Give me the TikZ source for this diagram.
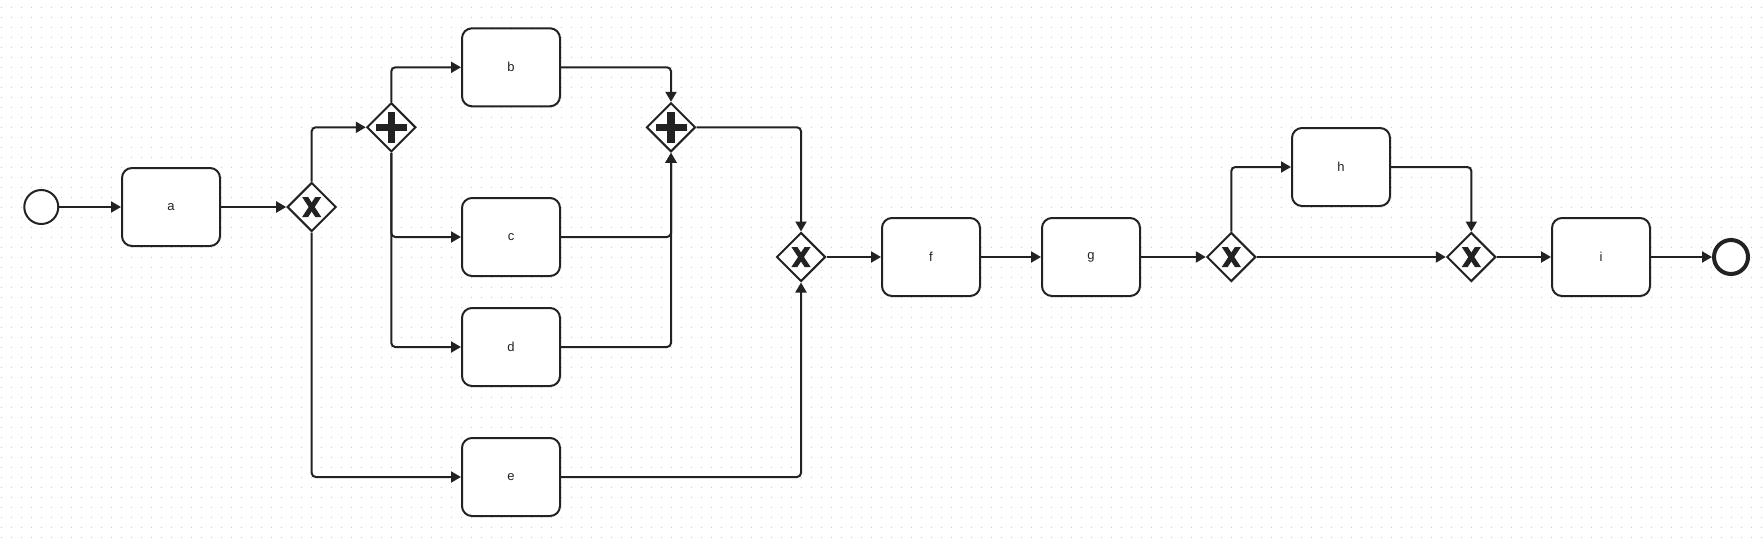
\documentclass[tikz,border=0pt]{standalone}
\usepackage{fontspec}
\setmainfont{Liberation Sans}
\usetikzlibrary{shapes.geometric,arrows.meta}
\definecolor{ink}{RGB}{34,34,34}
\definecolor{dotc}{RGB}{200,200,200}
\begin{document}
\begin{tikzpicture}[x=1pt,y=-1pt,
  task/.style={draw=ink,line width=2pt,fill=white,rounded corners=10pt,minimum width=98pt,minimum height=78pt,inner sep=0pt,font=\fontsize{13}{15}\selectfont,text=ink},
  gw/.style={diamond,draw=ink,line width=2pt,fill=white,minimum width=49pt,minimum height=49pt,inner sep=0pt,aspect=1},
  startev/.style={circle,draw=ink,line width=2pt,fill=white,minimum size=34pt,inner sep=0pt},
  endev/.style={circle,draw=ink,line width=4pt,fill=white,minimum size=34pt,inner sep=0pt},
  flow/.style={draw=ink,line width=2pt,rounded corners=4pt,-{Triangle[length=10pt,width=11pt]}},
  markfill/.style={fill=ink},
  gridrow/.style={draw=dotc,line width=1.2pt,dash pattern=on 1.2pt off 8.8pt}
]
\useasboundingbox[fill=white] (0,0) rectangle (1764,538);
% dotted grid background
\foreach \j in {0,...,53} {\draw[gridrow] (1.1,7.3+10*\j) -- (1764,7.3+10*\j);}

% nodes
\node[startev] (s) at (41.3,207) {};
\node[task] (a) at (171,207) {a};
\node[gw] (x1) at (311.7,207) {};
\node[gw] (p1) at (391.3,127.3) {};
\node[task] (b) at (511,67.3) {b};
\node[task] (c) at (511,237) {c};
\node[task] (d) at (511,347) {d};
\node[task] (e) at (511,477) {e};
\node[gw] (p2) at (671,127.3) {};
\node[gw] (x2) at (801,257) {};
\node[task] (f) at (931,257) {f};
\node[task] (g) at (1091,257) {g};
\node[gw] (x3) at (1231.3,257) {};
\node[task] (h) at (1341,167) {h};
\node[gw] (x4) at (1471.3,257) {};
\node[task] (i) at (1601,257) {i};
\node[endev] (end) at (1731,257) {};

% gateway markers
\foreach \n in {x1,x2,x3,x4} {
  \fill[markfill] ([shift={(-9.6,10)}]\n.center) -- ([shift={(-3.6,10)}]\n.center) -- ([shift={(9.6,-10)}]\n.center) -- ([shift={(3.6,-10)}]\n.center) -- cycle;
  \fill[markfill] ([shift={(9.6,10)}]\n.center) -- ([shift={(3.6,10)}]\n.center) -- ([shift={(-9.6,-10)}]\n.center) -- ([shift={(-3.6,-10)}]\n.center) -- cycle;
}
\foreach \n in {p1,p2} {
  \fill[markfill] ([shift={(-15.5,-3.7)}]\n.center) rectangle ([shift={(15.5,3.7)}]\n.center);
  \fill[markfill] ([shift={(-3.7,-15.5)}]\n.center) rectangle ([shift={(3.7,15.5)}]\n.center);
}

% flows
\draw[flow] (s) -- (a);
\draw[flow] (a) -- (x1);
\draw[flow] (x1.north) |- (p1.west);
\draw[flow] (x1.south) |- (e.west);
\draw[flow] (p1.north) |- (b.west);
\draw[flow] (p1.south) |- (c.west);
\draw[flow] (p1.south) |- (d.west);
\draw[flow] (b.east) -| (p2.north);
\draw[flow] (c.east) -| (p2.south);
\draw[flow] (d.east) -| (p2.south);
\draw[flow] (p2.east) -| (x2.north);
\draw[flow] (e.east) -| (x2.south);
\draw[flow] (x2) -- (f);
\draw[flow] (f) -- (g);
\draw[flow] (g) -- (x3);
\draw[flow] (x3.north) |- (h.west);
\draw[flow] (x3) -- (x4);
\draw[flow] (h.east) -| (x4.north);
\draw[flow] (x4) -- (i);
\draw[flow] (i) -- (end);
\end{tikzpicture}
\end{document}
